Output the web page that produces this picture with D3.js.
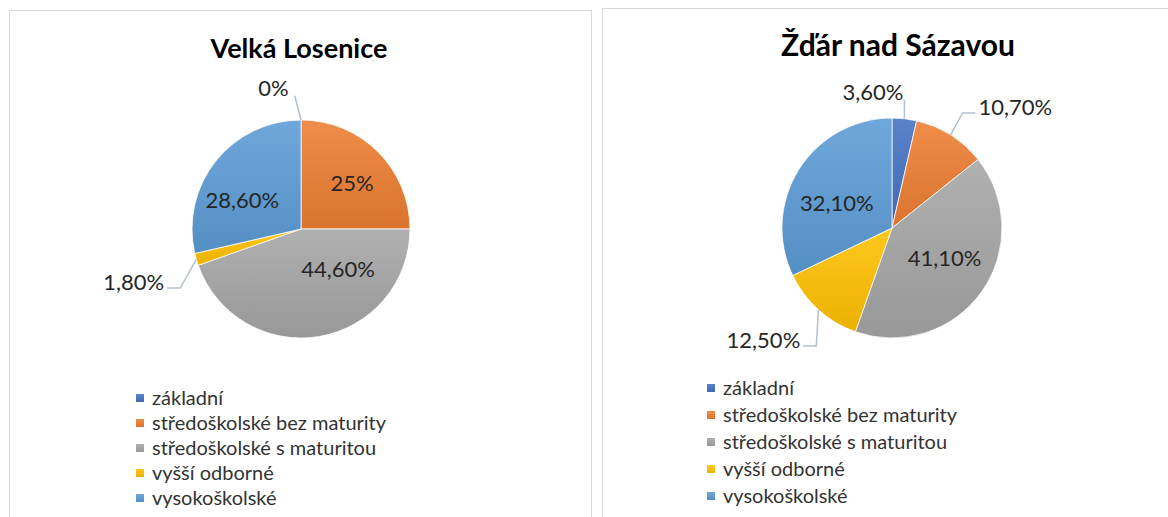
<!DOCTYPE html>
<html>
<head>
<meta charset="utf-8">
<script src="https://cdn.jsdelivr.net/npm/d3@7"></script>
<style>
  body { margin: 0; background: #fff; }
  svg { display: block; font-family: Lato, "Open Sans", sans-serif; }
</style>
</head>
<body>
<svg id="chart" width="1168" height="517"></svg>
<script>
// data
const categories = ["základní", "středoškolské bez maturity", "středoškolské s maturitou", "vyšší odborné", "vysokoškolské"];
const colors = ["#4472C4", "#ED7D31", "#A5A5A5", "#FFC000", "#5B9BD5"];
const titles = ["Velká Losenice", "Žďár nad Sázavou"];
const valuesVelkaLosenice = [0, 25, 44.6, 1.8, 28.6];
const valuesZdar = [3.6, 10.7, 41.1, 12.5, 32.1];
const labelsVelkaLosenice = ["0%", "25%", "44,60%", "1,80%", "28,60%"];
const labelsZdar = ["3,60%", "10,70%", "41,10%", "12,50%", "32,10%"];

// layout of the two panels (label placement = [angle shift in deg, radius factor])
const panels = [
    { values: valuesVelkaLosenice, labels: labelsVelkaLosenice, title: titles[0],
      box: [9.5, 10.5, 582], cx: 301, cy: 229, r: 109, titleX: 299, titleY: 58, titleSize: 27,
      legendX: 136, legendY: 398, legendStep: 25,
      place: [[-11, 1.32], [3, 0.63], [-33, 0.5], [-1.4, 1.61], [-12.3, 0.6]] },
    { values: valuesZdar, labels: labelsZdar, title: titles[1],
      box: [602.5, 8.5, 600], cx: 892, cy: 228, r: 110, titleX: 898, titleY: 56, titleSize: 30,
      legendX: 707, legendY: 388, legendStep: 27,
      place: [[-14.4, 1.25], [13.3, 1.57], [-6, 0.55], [7, 1.55], [-7.8, 0.55]] }
];

const svg = d3.select("#chart");
const defs = svg.append("defs");

// slightly lighter at the top, darker at the bottom of each slice
colors.forEach((c, i) => {
    const g = defs.append("linearGradient")
        .attr("id", "grad" + i)
        .attr("x1", 0).attr("y1", 0).attr("x2", 0).attr("y2", 1);
    g.append("stop").attr("offset", "0%").attr("stop-color", d3.interpolateRgb(c, "#fff")(0.12));
    g.append("stop").attr("offset", "100%").attr("stop-color", d3.interpolateRgb(c, "#000")(0.08));
});

const pie = d3.pie().sort(null).value(d => d);
const deg = Math.PI / 180;

function polar(cx, cy, angle, radius) {
    return [cx + radius * Math.sin(angle), cy - radius * Math.cos(angle)];
}

panels.forEach(p => {
    const panel = svg.append("g");

    panel.append("rect")
        .attr("x", p.box[0]).attr("y", p.box[1])
        .attr("width", p.box[2]).attr("height", 540)
        .attr("fill", "#fff")
        .attr("stroke", "#d9d9d9");

    panel.append("text")
        .attr("x", p.titleX).attr("y", p.titleY)
        .attr("text-anchor", "middle")
        .style("font-size", p.titleSize + "px")
        .style("font-weight", "bold")
        .attr("fill", "#000")
        .text(p.title);

    const arcs = pie(p.values);
    const arc = d3.arc().innerRadius(0).outerRadius(p.r);

    const g = panel.append("g").attr("transform", `translate(${p.cx},${p.cy})`);
    g.selectAll("path")
        .data(arcs)
        .enter().append("path")
        .attr("d", arc)
        .attr("fill", (d, i) => `url(#grad${i})`)
        .attr("stroke", "#fff")
        .attr("stroke-width", 0.75);

    // data labels
    arcs.forEach((d, i) => {
        const mid = (d.startAngle + d.endAngle) / 2;
        const [shift, rf] = p.place[i];
        const ang = mid + shift * deg;
        const [lx, ly] = polar(p.cx, p.cy, ang, rf * p.r);

        const t = panel.append("text")
            .attr("x", lx).attr("y", ly)
            .attr("dy", "0.36em")
            .attr("text-anchor", "middle")
            .style("font-size", "22px")
            .attr("fill", "#262626")
            .text(p.labels[i]);

        if (rf <= 1) return;

        // leader line from the slice edge to the label
        const bb = t.node().getBBox();
        const edge = polar(p.cx, p.cy, mid, p.r);
        let a = ((ang / deg) % 360 + 360) % 360;
        let pts;
        if (a < 20 || a > 340) {
            const tx = Math.max(bb.x, Math.min(edge[0], bb.x + bb.width + 6));
            pts = [[tx, ly + 8], edge];
        } else if (lx < edge[0]) {
            const sx = bb.x + bb.width + 3;
            pts = [[sx, ly + 6], [sx + 13, ly + 6], edge];
        } else {
            const sx = bb.x - 3;
            pts = [[sx, ly + 6], [sx - 13, ly + 6], edge];
        }
        panel.append("path")
            .attr("d", d3.line()(pts))
            .attr("fill", "none")
            .attr("stroke", "#b4c0cf")
            .attr("stroke-width", 1.5);
    });

    // legend
    const legend = panel.append("g");
    categories.forEach((name, i) => {
        const y = p.legendY + i * p.legendStep;
        legend.append("rect")
            .attr("x", p.legendX).attr("y", y - 4)
            .attr("width", 8).attr("height", 8)
            .attr("fill", `url(#grad${i})`);
        legend.append("text")
            .attr("x", p.legendX + 16).attr("y", y)
            .attr("dy", "0.35em")
            .style("font-size", "20px")
            .attr("fill", "#333")
            .text(name);
    });
});
</script>
</body>
</html>
